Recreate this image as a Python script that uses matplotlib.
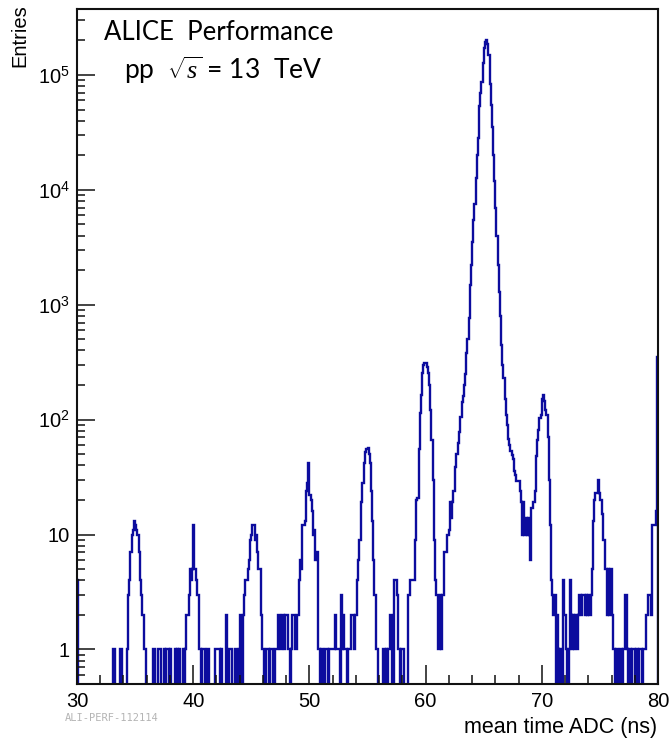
import numpy as np
import matplotlib
matplotlib.use("Agg")
import matplotlib.pyplot as plt
from matplotlib.ticker import FixedLocator, FixedFormatter, LogLocator, MultipleLocator, NullFormatter

plt.rcParams['mathtext.fontset'] = 'custom'
plt.rcParams['mathtext.rm'] = 'Liberation Sans'
plt.rcParams['mathtext.it'] = 'Liberation Serif:italic'

# Histogram range and binning (0.1 ns bins)
x_min, x_max = 30.0, 80.0

# Entries per 0.1 ns bin, one row per ns
counts_30_40 = [
    4, 0, 0, 0, 0, 0, 0, 0, 0, 0,
    0, 0, 0, 0, 0, 0, 0, 0, 0, 0,
    0, 0, 0, 0, 0, 0, 0, 0, 0, 0,
    0, 1, 1, 0, 0, 0, 0, 1, 1, 0,
    0, 0, 0, 1, 3, 4, 7, 10, 11, 13,
    12, 11, 10, 7, 4, 3, 2, 2, 1, 0,
    0, 0, 0, 0, 0, 1, 1, 0, 0, 0,
    1, 1, 0, 0, 0, 1, 0, 1, 1, 0,
    1, 0, 0, 0, 1, 0, 1, 0, 1, 0,
    0, 1, 0, 1, 2, 2, 3, 5, 4, 5,
]
counts_40_50 = [
    12, 5, 4, 3, 3, 1, 1, 0, 1, 1,
    0, 0, 1, 1, 0, 0, 0, 0, 0, 1,
    1, 1, 1, 0, 1, 0, 0, 0, 2, 0,
    0, 1, 1, 0, 0, 0, 1, 1, 0, 1,
    2, 0, 0, 2, 3, 4, 4, 5, 6, 9,
    10, 12, 12, 9, 10, 7, 5, 5, 2, 1,
    1, 0, 0, 1, 1, 0, 1, 1, 1, 0,
    1, 1, 1, 2, 2, 1, 2, 2, 1, 2,
    2, 2, 1, 0, 1, 2, 2, 2, 1, 2,
    2, 4, 6, 5, 12, 12, 13, 24, 28, 42,
]
counts_50_60 = [
    22, 20, 16, 10, 11, 6, 7, 1, 1, 0,
    1, 1, 0, 1, 1, 1, 0, 1, 1, 1,
    1, 1, 2, 1, 1, 1, 0, 3, 1, 2,
    1, 1, 0, 1, 1, 1, 2, 2, 1, 2,
    2, 4, 6, 9, 19, 28, 28, 42, 52, 56,
    57, 50, 42, 24, 13, 6, 3, 1, 1, 0,
    0, 0, 0, 1, 1, 0, 1, 0, 1, 2,
    2, 0, 0, 4, 4, 3, 1, 1, 0, 1,
    1, 0, 0, 0, 0, 3, 3, 4, 4, 4,
    4, 9, 20, 21, 55, 115, 165, 256, 300, 310,
]
counts_60_70 = [
    310, 290, 256, 200, 122, 67, 30, 9, 4, 3,
    3, 1, 3, 1, 3, 3, 7, 7, 10, 10,
    11, 19, 14, 19, 24, 39, 50, 50, 63, 78,
    106, 141, 162, 200, 248, 380, 500, 760, 1490, 2200,
    3500, 5500, 7600, 12700, 20000, 28000, 54000, 70000, 87000, 127000,
    171000, 195000, 200000, 185000, 150000, 83000, 55000, 35000, 20000, 12000,
    7000, 4000, 2200, 1300, 800, 450, 300, 230, 150, 110,
    89, 68, 60, 53, 49, 45, 36, 33, 29, 29,
    29, 24, 19, 10, 19, 10, 14, 10, 14, 10,
    6, 17, 19, 19, 24, 48, 67, 82, 104, 110,
]
counts_70_80 = [
    150, 165, 144, 122, 110, 70, 30, 12, 4, 3,
    2, 3, 0, 2, 1, 0, 1, 0, 4, 2,
    2, 1, 0, 1, 4, 2, 1, 2, 1, 2,
    1, 2, 3, 3, 2, 3, 3, 2, 3, 2,
    3, 2, 3, 5, 13, 20, 23, 23, 30, 23,
    20, 20, 15, 9, 5, 5, 2, 5, 2, 5,
    2, 1, 1, 0, 1, 1, 0, 1, 1, 0,
    1, 1, 3, 1, 0, 1, 1, 0, 1, 1,
    0, 1, 1, 0, 1, 1, 0, 1, 1, 1,
    2, 3, 3, 3, 2, 12, 12, 12, 16, 350,
]

y_major = [1, 10, 100, 1e3, 1e4, 1e5]
y_major_labels = ['1', '10', r'$10^{2}$', r'$10^{3}$', r'$10^{4}$', r'$10^{5}$']
y_min, y_max = 0.5, 3.75e5

counts = np.array(counts_30_40 + counts_40_50 + counts_50_60 + counts_60_70 + counts_70_80, float)
edges = np.linspace(x_min, x_max, len(counts) + 1)

fig = plt.figure(figsize=(6.71, 7.39), dpi=100)
ax = fig.add_axes([77 / 671, 55 / 739, 581 / 671, 675 / 739])

# empty bins drop below the frame, like a ROOT histogram on a log axis
floor = 1e-3
drawn = np.where(counts > 0, counts, floor)
ax.stairs(drawn, edges, baseline=floor, color='#0c0c9e', lw=1.7)

ax.set_xlim(x_min, x_max)
ax.set_yscale('log')
ax.set_ylim(y_min, y_max)

ax.xaxis.set_major_locator(MultipleLocator(10))
ax.xaxis.set_minor_locator(MultipleLocator(2))
ax.yaxis.set_major_locator(FixedLocator(y_major))
ax.yaxis.set_major_formatter(FixedFormatter(y_major_labels))
ax.yaxis.set_minor_locator(LogLocator(base=10, subs=np.arange(2, 10)))
ax.yaxis.set_minor_formatter(NullFormatter())

ax.tick_params(which='both', direction='in', top=False, right=False, color='#111111')
ax.tick_params(axis='x', which='major', length=13.5, width=1.1, pad=6)
ax.tick_params(axis='x', which='minor', length=6.5, width=1.1)
ax.tick_params(axis='y', which='major', length=13, width=1.1, pad=5)
ax.tick_params(axis='y', which='minor', length=6, width=1.1)
for lab in ax.get_xticklabels() + ax.get_yticklabels():
    lab.set_fontfamily('Liberation Sans')
    lab.set_fontsize(14.5)

for sp in ax.spines.values():
    sp.set_linewidth(1.5)
    sp.set_color('#111111')

fig.text(20 / 671, 1 - 4 / 739, 'Entries', rotation=90, ha='center', va='top',
         family='Liberation Sans', fontsize=14.5)
fig.text(657 / 671, 1 - 728 / 739, 'mean time ADC (ns)', ha='right', va='center',
         family='Liberation Sans', fontsize=15.5)
fig.text(65 / 671, 1 - 718 / 739, 'ALI-PERF-112114', ha='left', va='center',
         family='DejaVu Sans Mono', fontsize=7.5, color='#b4b4b4')

fig.text(104 / 671, 1 - 32 / 739, 'ALICE  Performance', ha='left', va='center',
         family='Lato', fontsize=18.5)
fig.text(124 / 671, 1 - 70 / 739, r'pp  $\sqrt{s}$ = 13  TeV', ha='left', va='center',
         family='Lato', fontsize=19)

fig.savefig('out.png', dpi=100)
